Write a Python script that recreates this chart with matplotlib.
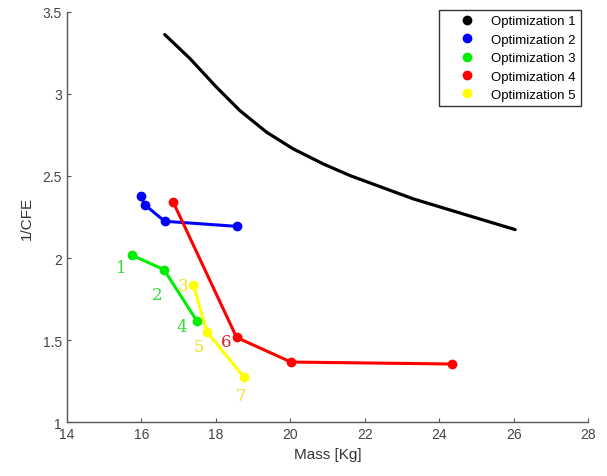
import matplotlib.pyplot as plt
from matplotlib.lines import Line2D

plt.rcParams['font.family'] = ['Liberation Sans', 'DejaVu Sans']

# Optimization 1 (Pareto-like curve)
opt1_mass = [16.63, 17.31, 18.02, 18.65, 19.37, 20.08, 20.89, 21.61, 23.31, 24.65, 26.04]
opt1_cfe = [3.362, 3.215, 3.041, 2.898, 2.766, 2.665, 2.573, 2.502, 2.360, 2.268, 2.173]

opt2_mass = [15.98, 16.10, 16.63, 18.56]
opt2_cfe = [2.376, 2.323, 2.224, 2.193]

opt3_mass = [15.74, 16.61, 17.49]
opt3_cfe = [2.018, 1.929, 1.618]

opt4_mass = [16.86, 18.56, 20.02, 24.35]
opt4_cfe = [2.340, 1.516, 1.366, 1.354]

opt5_mass = [17.40, 17.76, 18.76]
opt5_cfe = [1.835, 1.551, 1.273]

# point annotations
ann_text = ['1', '2', '3', '4', '5', '6', '7']
ann_x = [15.45, 16.42, 17.12, 17.08, 17.55, 18.28, 18.68]
ann_y = [1.94, 1.78, 1.83, 1.58, 1.46, 1.49, 1.16]
ann_col = ['#33dd33', '#33dd33', '#f0e020', '#33dd33', '#f0e020', '#dd2222', '#f0e020']

series = [
    ("Optimization 1", opt1_mass, opt1_cfe, 'black'),
    ("Optimization 2", opt2_mass, opt2_cfe, 'blue'),
    ("Optimization 3", opt3_mass, opt3_cfe, '#00ee00'),
    ("Optimization 4", opt4_mass, opt4_cfe, 'red'),
    ("Optimization 5", opt5_mass, opt5_cfe, '#ffff00'),
]

fig = plt.figure(figsize=(6.07, 4.77), dpi=100)
ax = fig.add_axes([0.110, 0.113, 0.859, 0.860])

handles = []
for label, xs, ys, col in series:
    if label == "Optimization 1":
        ax.plot(xs, ys, color=col, linewidth=2.3, solid_capstyle='round',
                solid_joinstyle='round')
    else:
        ax.plot(xs, ys, color=col, linewidth=2.2, marker='o', markersize=6)
    handles.append(Line2D([], [], color=col, marker='o', linestyle='none',
                          markersize=6, label=label))

for t, x, y, c in zip(ann_text, ann_x, ann_y, ann_col):
    ax.text(x, y, t, color=c, fontsize=12, family='DejaVu Serif',
            ha='center', va='center')

ax.set_xlim(14, 28)
ax.set_ylim(1, 3.5)
ax.set_xticks(range(14, 29, 2))
ax.set_yticks([1, 1.5, 2, 2.5, 3, 3.5])
ax.set_yticklabels(['1', '1.5', '2', '2.5', '3', '3.5'])
ax.spines['top'].set_visible(False)
ax.spines['right'].set_visible(False)
for s in ['left', 'bottom']:
    ax.spines[s].set_color('#555555')
    ax.spines[s].set_linewidth(1.0)
ax.tick_params(direction='in', colors='#555555', labelcolor='#444444',
               labelsize=10, length=3)
ax.set_xlabel("Mass [Kg]", fontsize=11, color='#333333', labelpad=4)
ax.set_ylabel("1/CFE", fontsize=11, color='#333333', labelpad=6)

leg = ax.legend(handles=handles, loc='upper right', fontsize=9.5,
                bbox_to_anchor=(0.986, 1.005), borderaxespad=0,
                frameon=True, fancybox=False, framealpha=1,
                edgecolor='#333333', handlelength=3.4, handletextpad=0.15,
                borderpad=0.4, labelspacing=0.47)
leg.get_frame().set_linewidth(1.0)

plt.savefig("out.png", dpi=100)
